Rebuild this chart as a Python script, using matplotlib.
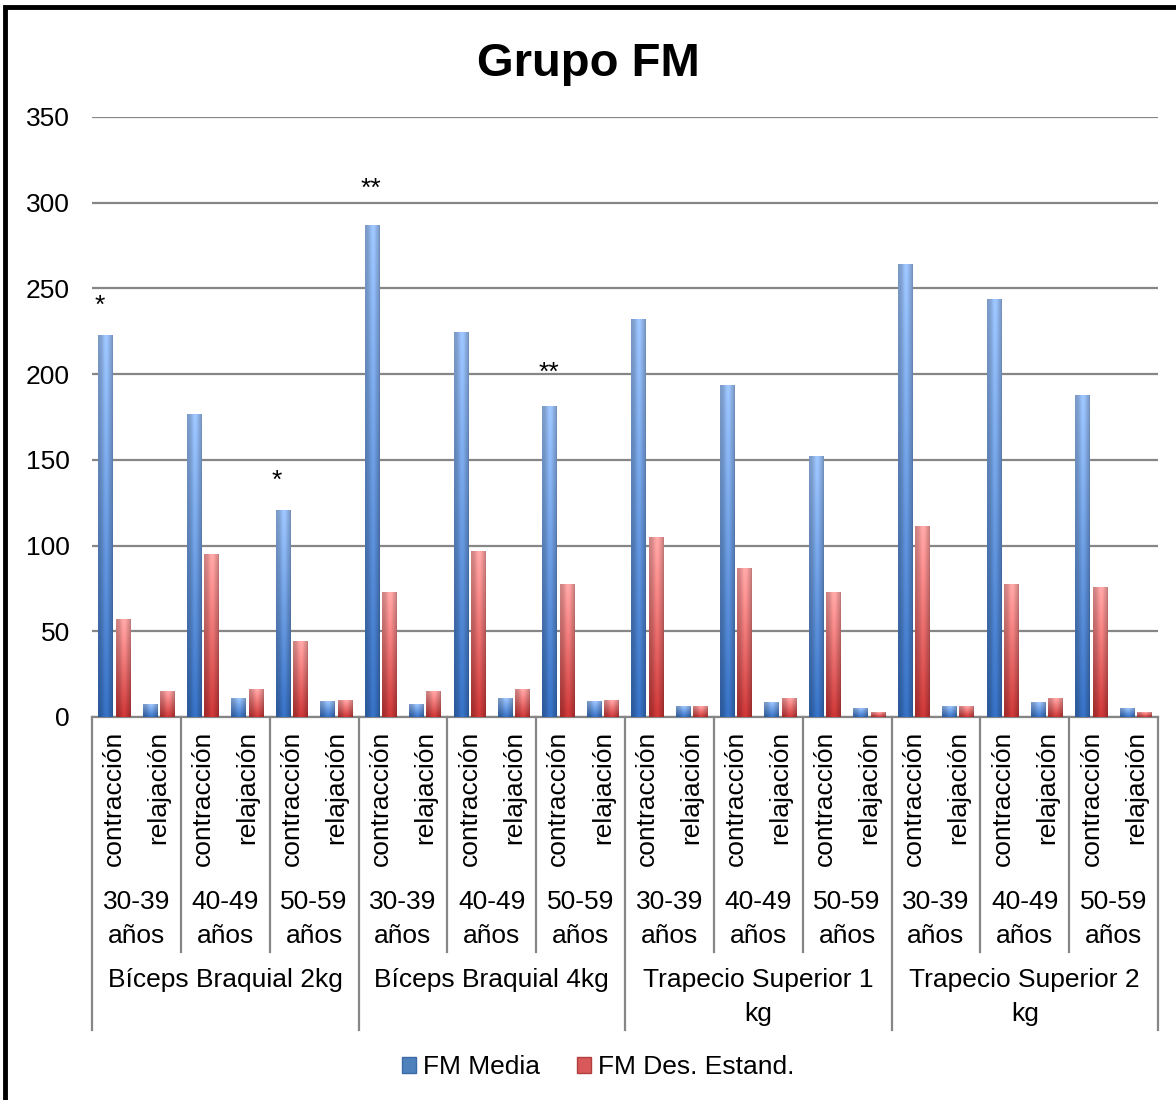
import numpy as np
import matplotlib
matplotlib.use("Agg")
import matplotlib.pyplot as plt
from matplotlib import transforms
from matplotlib.patches import Rectangle, Patch

plt.rcParams['font.family'] = ['Liberation Sans', 'DejaVu Sans']

groups = ["Bíceps Braquial 2kg", "Bíceps Braquial 4kg",
          "Trapecio Superior 1\nkg", "Trapecio Superior 2\nkg"]
ages = ["30-39\naños", "40-49\naños", "50-59\naños"]
states = ["contracción", "relajación"]

fm_media = [222.6, 7.4, 176.3, 10.9, 120.4, 9.0,
            286.9, 7.4, 224.2, 10.9, 181.3, 9.0,
            231.6, 6.4, 193.4, 8.4, 151.8, 4.8,
            263.8, 6.4, 243.3, 8.4, 187.4, 4.8]
fm_desv = [56.7, 14.9, 94.9, 15.9, 44.2, 9.9,
           72.8, 14.9, 96.5, 15.9, 77.2, 9.9,
           104.5, 6.4, 86.9, 11.0, 72.8, 2.4,
           111.4, 6.4, 77.2, 11.0, 75.4, 2.4]

# significance marks: (category index, text, value at glyph centre)
marks = [(0, "*", 240), (4, "*", 138), (6, "**", 308), (10, "**", 201)]

W, H = 1176, 1100


def fy(px):
    return 1 - px / float(H)


def fx(px):
    return px / float(W)


def gradient(top, bottom):
    t = np.linspace(0, 1, 64)[:, None, None]
    col = np.array(top)[None, None, :] * (1 - t) + np.array(bottom)[None, None, :] * t
    xs = np.linspace(0, 1, 16)
    prof = 0.82 + 0.25 * np.exp(-((xs - 0.55) / 0.28) ** 2)
    prof[-1] *= 0.92
    img = col * prof[None, :, None]
    return np.clip(img / 255.0, 0, 1)


blue_img = gradient((150, 188, 242), (52, 108, 188))
red_img = gradient((250, 160, 160), (196, 52, 52))

n = len(fm_media)
x = np.arange(n)

fig = plt.figure(figsize=(W / 100.0, H / 100.0), dpi=100)
ax = fig.add_axes([fx(92), fy(717), fx(1158) - fx(92), fy(117) - fy(717)])

bars_b = ax.bar(x - 0.195, fm_media, 0.33, color="#4F81BD", zorder=2,
                label="FM Media")
bars_r = ax.bar(x + 0.195, fm_desv, 0.33, color="#C0504D", zorder=2,
                label="FM Des. Estand.")

# cylinder-like shading on each bar
for bars, img in ((bars_b, blue_img), (bars_r, red_img)):
    for b in bars:
        x0 = b.get_x()
        ax.imshow(img, extent=[x0, x0 + b.get_width(), 0, b.get_height()],
                  aspect='auto', interpolation='bilinear', zorder=3)

ax.set_xlim(-0.5, n - 0.5)
ax.set_ylim(0, 350)
ax.set_aspect('auto')
ax.set_yticks(np.arange(0, 351, 50))
ax.yaxis.grid(True, color="#868686", linewidth=1.6, zorder=0)
ax.set_axisbelow(True)
ax.tick_params(axis='y', length=0, pad=16, labelsize=19)
ax.tick_params(axis='x', length=0, labelbottom=False)
for s in ("top", "right", "left"):
    ax.spines[s].set_visible(False)
ax.spines["bottom"].set_color("#868686")
ax.spines["bottom"].set_linewidth(1.6)

for i, txt, v in marks:
    ax.text(i - 0.45, v, txt, ha='left', va='center', fontsize=19,
            zorder=5)

# multi level category labels
trans = transforms.blended_transform_factory(ax.transData, fig.transFigure)
for i in range(n):
    ax.text(i, fy(731), states[i % 2], rotation=90, ha='center', va='top',
            fontsize=19, transform=trans, clip_on=False)
for k in range(n // 2):
    ax.text(2 * k + 0.5, fy(919), ages[k % 3], ha='center', va='center',
            fontsize=19, linespacing=1.55, transform=trans, clip_on=False)
for g in range(len(groups)):
    ax.text(6 * g + 2.5, fy(968), groups[g], ha='center', va='top',
            fontsize=19, linespacing=1.55, transform=trans, clip_on=False)

for k in range(n // 2 + 1):
    edge = 2 * k - 0.5
    low = fy(1030) if k % 3 == 0 else fy(952)
    ax.plot([edge, edge], [fy(717), low], color="#868686", linewidth=1.6,
            transform=trans, clip_on=False)

fig.text(0.5, fy(76), "Grupo FM", ha='center', va='baseline', fontsize=34,
         fontweight='bold')

handles = [Patch(facecolor="#4F81BD", edgecolor="#3A6AA8", label="FM Media"),
           Patch(facecolor="#D9585A", edgecolor="#B04040", label="FM Des. Estand.")]
fig.legend(handles=handles, loc='center', bbox_to_anchor=(fx(598), fy(1067)),
           ncol=2, frameon=False, fontsize=19, handlelength=0.55,
           handleheight=0.55, handletextpad=0.25, columnspacing=1.4)

fig.patches.append(Rectangle((fx(5), fy(1106)), fx(1190) - fx(5), fy(7) - fy(1106),
                             transform=fig.transFigure, fill=False,
                             edgecolor="black", linewidth=3.5))

fig.savefig("out.png", dpi=100)
